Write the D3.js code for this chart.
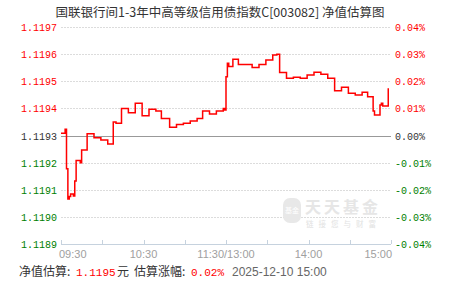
<!DOCTYPE html>
<html>
<head>
<meta charset="utf-8">
<script src="https://cdn.jsdelivr.net/npm/d3@7"></script>
<style>
  body { margin: 0; background: #fff; }
  svg { display: block; }
</style>
</head>
<body>
<svg id="chart" width="451" height="281"></svg>
<script>
'use strict';

var title = '国联银行间1-3年中高等级信用债指数C[003082] 净值估算图';
var baseNav = 1.1193;
var navTicks = [1.1197, 1.1196, 1.1195, 1.1194, 1.1193, 1.1192, 1.1191, 1.1190, 1.1189];
var pctLabels = ['0.04%', '0.03%', '0.02%', '0.01%', '0.00%', '-0.01%', '-0.02%', '-0.03%', '-0.04%'];
var timeTicks = ['09:30', '10:00', '10:30', '11:00', '11:30', '13:30', '14:00', '14:30', '15:00'];
var timeLabels = ['09:30', '', '10:30', '', '11:30/13:00', '', '14:00', '', '15:00'];

// estimated NAV (step line)
var times = [
  '09:30', '09:33', '09:34', '09:35', '09:36', '09:37', '09:39', '09:40', '09:41',
  '09:44', '09:45', '09:49', '09:54', '09:59', '10:04', '10:08', '10:10', '10:14',
  '10:19', '10:24', '10:29', '10:34', '10:39', '10:43', '10:49', '10:54', '10:59',
  '11:04', '11:09', '11:13', '11:18', '11:23', '11:28', '11:29', '11:30',
  '13:00', '13:01', '13:02', '13:05', '13:09', '13:19', '13:24', '13:29', '13:34',
  '13:37', '13:39', '13:44', '13:49', '13:54', '13:59', '14:04', '14:09', '14:14',
  '14:19', '14:24', '14:29', '14:34', '14:39', '14:43', '14:47', '14:48', '14:52',
  '14:53', '14:54', '14:58'
];
var navValues = [
  1.119308, 1.119323, 1.119177, 1.119066, 1.119075, 1.119084, 1.119077, 1.119132, 1.119208,
  1.119200, 1.119247, 1.119306, 1.119292, 1.119283, 1.119269, 1.119350, 1.119345, 1.119400,
  1.119384, 1.119419, 1.119373, 1.119397, 1.119390, 1.119363, 1.119330, 1.119341, 1.119345,
  1.119353, 1.119363, 1.119390, 1.119379, 1.119390, 1.119400, 1.119394, 1.119439,
  1.119517, 1.119566, 1.119554, 1.119581, 1.119562, 1.119551, 1.119562, 1.119578, 1.119597,
  1.119600, 1.119532, 1.119511, 1.119515, 1.119511, 1.119523, 1.119533, 1.119526, 1.119511,
  1.119465, 1.119478, 1.119456, 1.119449, 1.119459, 1.119443, 1.119390, 1.119376, 1.119412,
  1.119419, 1.119409, 1.119474
];

var estNav = '1.1195';
var estPct = '0.02%';
var estTime = '2025-12-10 15:00';

(function() {

  var red = '#ff0000', green = '#008000', dark = '#333333';
  var monoFont = '"Liberation Mono", "DejaVu Sans Mono", monospace';
  var sansFont = '"Liberation Sans", Arial, sans-serif';
  var cjkFont = '"Noto Sans CJK SC", "Noto Sans", sans-serif';

  /**
   * minutes of trading since 09:30, lunch break folded away
   */
  function tradeMinute(t) {
    var p = t.split(':'),
        m = (+p[0]) * 60 + (+p[1]) - 570;
    if (m > 120) {
      m = Math.max(120, m - 90);
    }
    return m;
  }

  function colorOf(v) {
    if (Math.abs(v - baseNav) < 1e-9) { return dark; }
    return v > baseNav ? red : green;
  }

  var svg = d3.select('#chart');
  var plotLeft = 61, plotRight = 391, plotTop = 27, plotBottom = 244;

  var x = d3.scaleLinear().domain([0, 240]).range([plotLeft, plotRight]);
  var y = d3.scaleLinear()
    .domain([navTicks[navTicks.length - 1], navTicks[0]])
    .range([plotBottom, plotTop]);

  // title
  svg.append('text')
    .attr('x', 220)
    .attr('y', 17)
    .attr('text-anchor', 'middle')
    .style('font-family', cjkFont)
    .style('font-size', '12.5px')
    .style('fill', dark)
    .text(title);

  // grid lines
  var grid = svg.append('g').attr('class', 'grid');
  navTicks.forEach(function(v, i) {
    if (i === navTicks.length - 1) { return; }
    var isBase = Math.abs(v - baseNav) < 1e-9;
    grid.append('line')
      .attr('x1', plotLeft)
      .attr('x2', plotRight)
      .attr('y1', Math.round(y(v)) + 0.5)
      .attr('y2', Math.round(y(v)) + 0.5)
      .attr('stroke', isBase ? '#999' : '#dcdcdc')
      .attr('stroke-width', 1)
      .attr('stroke-dasharray', isBase ? null : '2,1');
  });

  // left and right labels
  navTicks.forEach(function(v, i) {
    var yy = Math.round(y(v)) + 4;
    svg.append('text')
      .attr('x', 57)
      .attr('y', yy)
      .attr('text-anchor', 'end')
      .style('font-family', monoFont)
      .style('font-size', '10px')
      .style('fill', colorOf(v))
      .text(v.toFixed(4));
    svg.append('text')
      .attr('x', 395)
      .attr('y', yy)
      .style('font-family', monoFont)
      .style('font-size', '10px')
      .style('fill', colorOf(v))
      .text(pctLabels[i]);
  });

  // bottom axis
  var axisColor = '#c6d2de';
  var axis = svg.append('g').attr('class', 'x-axis');
  axis.append('line')
    .attr('x1', plotLeft)
    .attr('x2', plotRight)
    .attr('y1', plotBottom + 0.5)
    .attr('y2', plotBottom + 0.5)
    .attr('stroke', axisColor);
  timeTicks.forEach(function(t, i) {
    var m = i * 30,
        xx = Math.round(x(m)) + 0.5;
    axis.append('line')
      .attr('x1', xx)
      .attr('x2', xx)
      .attr('y1', plotBottom)
      .attr('y2', plotBottom - 4)
      .attr('stroke', axisColor);
    if (!timeLabels[i]) { return; }
    var anchor = 'middle', dx = 0;
    if (i === 0) { anchor = 'start'; dx = -2; }
    if (i === timeTicks.length - 1) { anchor = 'end'; dx = 1; }
    axis.append('text')
      .attr('x', x(m) + dx)
      .attr('y', 258)
      .attr('text-anchor', anchor)
      .style('font-family', sansFont)
      .style('font-size', '11px')
      .style('fill', '#a0a0a0')
      .text(timeLabels[i]);
  });

  // watermark
  var wm = svg.append('g').attr('class', 'watermark');
  wm.append('rect')
    .attr('x', 283).attr('y', 198)
    .attr('width', 18).attr('height', 25)
    .attr('rx', 7).attr('ry', 7)
    .attr('fill', '#e8e8e8');
  wm.append('text')
    .attr('x', 292).attr('y', 213)
    .attr('text-anchor', 'middle')
    .style('font-family', cjkFont)
    .style('font-size', '7px')
    .style('fill', '#fff')
    .text('基金');
  wm.append('text')
    .attr('x', 305).attr('y', 213)
    .style('font-family', cjkFont)
    .style('font-size', '16px')
    .style('font-weight', 'bold')
    .style('letter-spacing', '3px')
    .style('fill', '#e6e6e6')
    .text('天天基金');
  wm.append('text')
    .attr('x', 306).attr('y', 227)
    .style('font-family', cjkFont)
    .style('font-size', '7.5px')
    .style('letter-spacing', '5px')
    .style('fill', '#e2e2e2')
    .text('链接您与财富');

  // estimate line
  var points = times.map(function(t, i) {
    return [tradeMinute(t), navValues[i]];
  });
  var line = d3.line()
    .x(function(d) { return x(d[0]); })
    .y(function(d) { return y(d[1]); })
    .curve(d3.curveStepAfter);
  svg.append('path')
    .datum(points)
    .attr('d', line)
    .attr('fill', 'none')
    .attr('stroke', red)
    .attr('stroke-width', 1.5);

  // footer
  var foot = svg.append('g')
    .style('font-size', '12px');
  function footText(xx, txt, color, font, size) {
    var t = foot.append('text')
      .attr('x', xx)
      .attr('y', 276)
      .style('font-family', font)
      .style('fill', color)
      .text(txt);
    if (size) {
      t.style('font-size', size);
    }
  }
  footText(19, '净值估算:', dark, cjkFont);
  footText(76, estNav, red, monoFont, '11px');
  footText(117, '元', dark, cjkFont);
  footText(134, '估算涨幅:', dark, cjkFont);
  footText(191, estPct, red, monoFont, '11px');
  footText(232, estTime, '#666', sansFont);

})();
</script>
</body>
</html>
